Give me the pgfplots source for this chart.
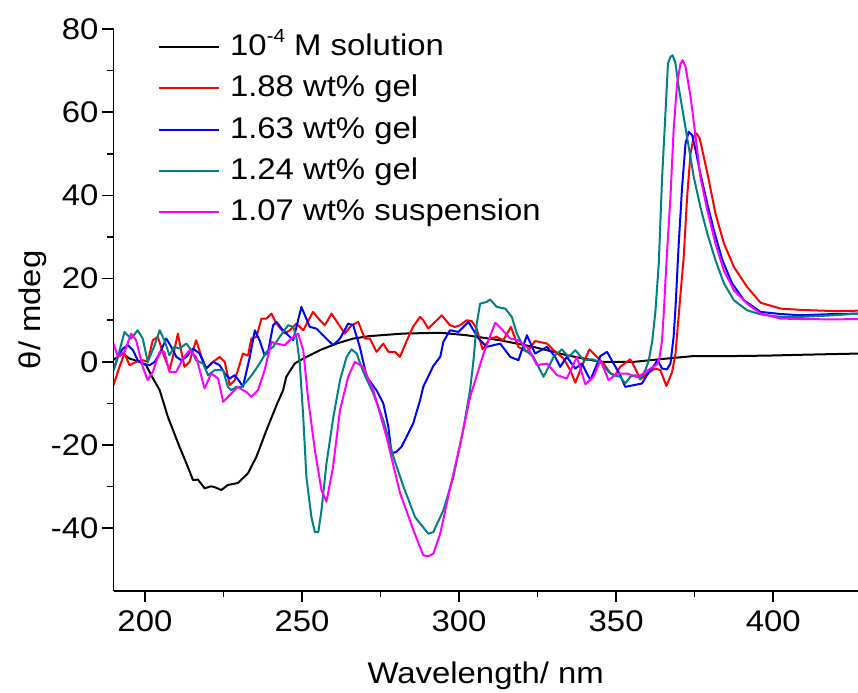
\documentclass[border=0pt]{standalone}
\usepackage{fontspec}
\setmainfont[FakeStretch=1.1]{Liberation Sans}
\usepackage{pgfplots}
\pgfplotsset{compat=1.18}
\definecolor{cteal}{RGB}{0,128,128}
\definecolor{cmag}{RGB}{255,0,255}
\tikzset{cv/.style={line width=2bp, line join=round}}
\begin{document}
\begin{tikzpicture}
\begin{axis}[
  at={(113.5bp,-590.7bp)}, anchor=south west,
  scale only axis, width=744.5bp, height=561.7bp,
  xmin=190, xmax=427, ymin=-55, ymax=80,
  axis lines*=left,
  axis line style={line width=1.8bp, black},
  tick align=outside,
  major tick length=11.5bp, minor tick length=6.5bp,
  tick style={line width=1.6bp, black},
  xtick={200,250,300,350,400}, xticklabels={200,250,300,350,400},
  minor x tick num=1,
  ytick={-40,-20,0,20,40,60,80}, yticklabels={-40,-20,0,20,40,60,80},
  minor y tick num=1,
  tick label style={font=\fontsize{30}{36}\selectfont},
  xticklabel style={yshift=-5bp},
  xlabel={Wavelength/ nm}, ylabel={θ/ mdeg},
  label style={font=\fontsize{30}{36}\selectfont},
  xlabel style={at={(axis description cs:0.5,0)}, anchor=base, yshift=-92.3bp},
  ylabel style={at={(axis description cs:-0.108,0.5)}, anchor=center},
  legend style={draw=none, fill=none, inner sep=0pt, outer sep=0pt,
    at={(axis description cs:0.0598,0.9957)}, anchor=north west,
    row sep=10.1bp, column sep=10bp, font=\fontsize{30}{36}\selectfont,
    nodes={inner sep=0pt, text height=24bp, text depth=7.2bp}},
  legend cell align=left,
  legend image code/.code={\draw[#1] (0bp,0bp) -- (60bp,0bp);},
]
% 10^-4 M solution
\addplot[black, cv] coordinates {
(190,0.5) (193,2.0) (195.1,0.8) (198.3,0) (200.4,-0.8) (202,-3.2) (204.7,-6.8) (207.3,-13.2) (211,-20.4) (213,-24) (215.3,-28.4) (216.9,-28.3) (219,-30.4) (221.1,-29.9) (222.5,-30.2) (224.3,-30.8) (226.4,-29.6) (229.6,-29.1) (232.8,-26.8) (235.5,-22.8) (238.7,-16.4) (241.9,-10.4) (244,-6.8) (245,-3.6) (247.7,-0.4) (250.4,0.8) (255.7,2.8) (261,4.4) (266.3,5.6) (271.6,6.2) (282.2,6.8) (294,7.0) (302.4,6.4) (313,5.2) (323.7,3.6) (334.3,1.6) (345,0.0) (355.6,0) (366.2,0.8) (374.7,1.4) (387.5,1.4) (398.1,1.5) (408.7,1.7) (427.2,2.0)
};
\addlegendentry{10\raisebox{13bp}{\fontsize{19}{20}\selectfont -4} M solution}
% 1.88 wt% gel
\addplot[red, cv] coordinates {
(190,-5.6) (191.9,-1.2) (193.5,2.0) (195.1,-0.8) (197.2,0) (199.3,0.4) (200.9,0) (202.5,5.2) (204.1,6.0) (206.2,1.2) (207.8,-2) (208.9,1.2) (210.5,6.8) (211.6,2.4) (212.6,-1.2) (214.2,0) (216.3,5.2) (218,1.2) (219.5,-1.6) (221.7,0) (223.8,1.2) (225.4,0) (227,-5.6) (228.6,-4.4) (229.6,-2) (231.2,2) (232.8,1.5) (233.9,5.6) (235.5,6.0) (237.1,10.4) (238.7,10.4) (240.3,11.6) (241.9,9.2) (244.5,6.8) (246.1,7.6) (248.2,9.2) (250.4,7.6) (253.5,12) (255.7,10) (257.3,8.8) (259.4,11.6) (261.5,9.2) (263.6,6.8) (265.8,8.8) (267.9,9.6) (270,5.6) (271.6,5.6) (273.7,2.4) (275.9,4.4) (277.5,2.4) (279.6,2.4) (281.2,1.2) (283.3,5) (285.4,8.5) (287.6,10.8) (288.6,10) (290.2,8) (291.8,9.2) (294.5,11.2) (297.1,8.8) (298.7,8.4) (300.3,8.8) (302.4,10) (304,9.8) (305.6,8) (307.5,3) (309.8,5.6) (312,6) (314.1,5.2) (316.5,8.4) (318.9,3.6) (321.6,2.4) (324.2,5) (328,4.4) (330.1,2.8) (333.3,0.8) (335.4,-2) (337,-5) (339.1,-1) (341.5,3) (343.9,1.2) (346,-0.4) (348.2,-2.8) (349.7,-3.2) (351.3,-1.2) (354.5,0.6) (356.1,-1.6) (357.7,-4.2) (359.8,-2.8) (362.5,-1.6) (364.1,-2) (366,-5.8) (367.8,-2.5) (368.9,2) (369.9,11) (370.8,19) (371.5,25) (372.6,39.7) (373.7,50.1) (374.7,54.1) (375.6,54.9) (376.6,53.7) (377.9,49.3) (379.5,43.7) (381.6,35.7) (384.3,28.5) (387.5,22.8) (391.7,18.0) (396,14.2) (402.4,12.8) (408.7,12.5) (419.4,12.2) (427.2,12.3)
};
\addlegendentry{1.88 wt\% gel}
% 1.63 wt% gel
\addplot[blue, cv] coordinates {
(190,-2) (191.4,1.2) (193,3.2) (194.6,4) (196.2,2.8) (197.7,0.4) (199.3,-0.4) (201.5,-0.8) (203.1,0) (204.7,2) (206.8,5.6) (208.4,3.6) (210,1.2) (211.6,0.4) (213.2,1.2) (215.3,3.2) (217.4,2) (219.5,-1.6) (221.7,0) (223.8,-0.8) (225.4,-2.8) (227,-4) (228.6,-3.2) (230.2,-4.8) (231.2,-6) (233.4,1.2) (235,7.6) (236.5,5.2) (238.1,1.6) (239.2,2.4) (240.8,8.8) (241.9,9.6) (243.5,8) (245.1,6.8) (247.2,5.2) (249.8,13.2) (252.5,8.4) (254.6,8) (256.7,6.4) (259.9,4) (262.1,5.6) (264.7,9.2) (266.3,8.8) (268.4,3.6) (270.6,-3.6) (273.7,-6.8) (275.9,-10) (277.5,-15.6) (278.5,-22) (280.1,-21.6) (281.7,-20.4) (283.3,-18) (285.4,-14.8) (287.6,-9.2) (288.6,-6) (291.8,-1) (294,1.2) (295,4.8) (297.1,7.6) (299.8,7.2) (303,9.6) (306.2,5.6) (308.8,3.6) (313.1,4.4) (316.3,1.2) (318.9,0.4) (321.6,6.4) (324.2,2) (328,3.6) (330.6,1.2) (332.2,-1.2) (334.3,1.2) (337,-1.6) (339.1,-0.4) (341.8,-4.4) (345,1.4) (347.1,2.4) (349.2,-0.4) (351.3,-3.2) (352.9,-6) (355.6,-5.6) (358.2,-5.2) (359.8,-3.2) (361.4,-1.6) (363.2,0.4) (364.6,-1.6) (366.2,-1.8) (367.3,-0.4) (368.3,6) (368.9,13) (369.9,28) (371,42) (372.1,52.5) (373.1,55.3) (374.2,54.5) (375.3,50.9) (376.8,45.3) (379,38.1) (381.1,31.7) (383.8,24.5) (386.9,18.9) (390.7,14.8) (396,12) (402.4,11.5) (408.7,11.2) (419.4,11.5) (427.2,11.6)
};
\addlegendentry{1.63 wt\% gel}
% 1.24 wt% gel
\addplot[cteal, cv] coordinates {
(190,-2) (191.4,1.2) (193.5,7.2) (195.6,5.6) (197.7,7.6) (199.3,5.6) (200.9,0) (203.1,4) (204.7,7.6) (206.2,5.2) (207.8,1.6) (209.4,3.6) (211,3.2) (213.2,4.4) (214.8,2.8) (216.3,0.4) (218.5,-0.4) (220.1,-3.2) (222.2,-2) (224.9,-2) (226.4,-6) (227.5,-6.8) (229.1,-6) (230.7,-6) (232.3,-4.8) (234.4,-2.8) (236.5,-0.4) (238.7,2.4) (240.8,3.6) (242.9,6) (245.6,8.8) (247.2,8.4) (248.2,6) (249.3,-0.4) (250.4,-13.2) (251.4,-27.6) (253,-37.3) (254.1,-40.9) (255.2,-40.9) (256.2,-35.7) (257.8,-24.4) (260,-13.2) (262.1,-4.4) (264.2,1.2) (265.8,3.0) (267.4,2) (269.5,-2.4) (272.7,-7.6) (275.9,-14) (279.1,-22.8) (282.3,-30) (286,-37.3) (290.2,-41.3) (291.8,-40.9) (295,-35.7) (298.2,-27.6) (301.4,-16) (303.5,-6.8) (304.6,0.4) (305.6,9) (306.7,14) (308.8,14.4) (309.9,15) (312,13.2) (314.7,12.8) (316.8,10.8) (318.4,6.8) (321.1,2.8) (323.7,1.2) (326.9,-3.6) (330.1,1.2) (332.7,3) (334.9,1.2) (337,2.8) (339.7,0.4) (342.3,0.6) (345,0) (347.6,-2.4) (349.2,-3.2) (351.3,-3.6) (352.9,-5.2) (354.5,-3.6) (356.1,-3.2) (357.7,-4) (359.3,-2) (360.4,0.4) (361.5,5) (362.5,12) (363.6,24) (364.6,43.7) (365.7,59.7) (366.5,71.7) (367.3,73.3) (368,73.7) (368.9,71.7) (369.9,66.1) (371.5,58.9) (373.1,51.7) (374.7,44.5) (376.8,37.3) (379,30.9) (381.6,24.5) (384.3,18.9) (387.5,14.8) (391.7,12.4) (396,11.4) (402.4,10.8) (408.7,10.8) (419.4,11.2) (427.2,11.6)
};
\addlegendentry{1.24 wt\% gel}
% 1.07 wt% suspension
\addplot[cmag, cv] coordinates {
(190,4.4) (191.4,1.2) (193.5,2.4) (195.6,6.8) (197.2,5.2) (199.3,-1.2) (200.9,-4.4) (202.5,-2.4) (204.7,2.4) (206.2,2.4) (207.8,-2.4) (210,-2.4) (212.1,0.8) (214.2,2.8) (216.3,1.2) (219,-6.4) (221.1,-2.8) (223.3,-4) (224.9,-9.6) (227,-8) (229.6,-6) (231.2,-6.8) (232.3,-7.2) (233.9,-8.4) (236,-6.8) (238.1,-2) (240.3,4.8) (241.9,4.4) (244.5,4) (246.6,5.6) (248.8,6.8) (250.4,2.8) (252,-9.2) (254.1,-21.2) (256.2,-30.8) (257.8,-33.6) (259.9,-25.2) (262.1,-11.6) (264.7,-3.6) (266.8,0) (269.5,-1.2) (272.7,-6.8) (276.9,-18) (281.2,-31.5) (285.5,-40.5) (288.6,-46.5) (290.2,-46.7) (291.8,-46.1) (294,-41.3) (297.1,-30.5) (300.3,-20) (303.5,-8.5) (307.8,2) (311.5,9.4) (313.4,8) (316.3,5.6) (318.9,5.2) (322.1,3.2) (324.8,-0.8) (328,-0.4) (331.2,-3.2) (334.3,-4) (337.5,1.2) (340.2,-5.4) (342.8,-3.6) (345,0.4) (347.6,-4.4) (350.3,-2.8) (353.5,-2.8) (356.6,-3.6) (358.8,-2.8) (360.9,-1.6) (363,-0.6) (363.8,1) (364.6,5) (365.2,12) (365.7,19.6) (366.5,30) (367.3,39.7) (368.3,55.7) (369.4,66.9) (370.5,71.7) (371.2,72.5) (372.1,70.9) (373.7,63.7) (375.3,54.1) (376.8,44.5) (379,36.5) (381.6,28.5) (384.3,22.0) (387.5,17.2) (391.7,14.0) (396,11.6) (402.4,10.4) (408.7,10.3) (419.4,10.2) (427.2,10.3)
};
\addlegendentry{1.07 wt\% suspension}
\end{axis}
\pgfresetboundingbox
\path[use as bounding box] (0bp,0bp) rectangle (858bp,-693bp);
\end{tikzpicture}
\end{document}
